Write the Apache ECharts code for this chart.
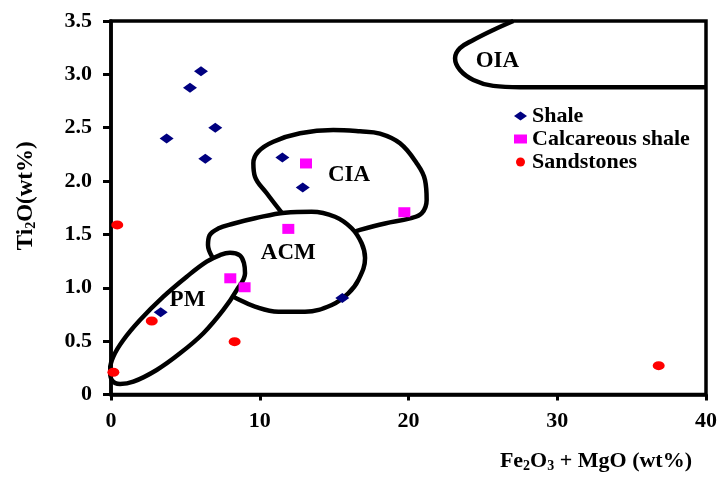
<!DOCTYPE html>
<html><head><meta charset="utf-8">
<script src="https://cdn.jsdelivr.net/npm/echarts@6/dist/echarts.min.js"></script>
<style>html,body{margin:0;padding:0;background:#fff}#c{width:721px;height:477px}</style>
</head><body><div id="c"></div>
<script>
// ---- data ----
const shale = [[6.05,3.03],[5.31,2.875],[3.74,2.40],[7.01,2.50],[6.34,2.21],[11.52,2.22],[12.89,1.94],[3.34,0.77],[15.55,0.905]];
const calcShale = [[13.11,2.165],[11.92,1.552],[19.72,1.708],[8.02,1.089],[8.98,1.005]];
const sandstones = [[0.42,1.589],[2.74,0.689],[8.31,0.495],[0.16,0.208],[36.82,0.27]];
const xTicks = ['0','10','20','30','40'];
const yTicks = ['0','0.5','1.0','1.5','2.0','2.5','3.0','3.5'];
// field boundaries (traced)
const oiaLine = [[27.05,3.5],[25.70,3.416],[24.36,3.322],[23.46,3.245],[23.13,3.151],[23.46,3.041],[24.36,2.948],[25.70,2.892],[27.50,2.880],[31.08,2.880],[40,2.880]];
const ciaLine = [[11.5,1.70],[10.47,1.886],[9.68,2.041],[9.57,2.167],[9.90,2.276],[10.91,2.369],[12.71,2.448],[14.94,2.479],[16.74,2.466],[18.08,2.445],[19.43,2.354],[20.55,2.167],[21.11,2.010],[21.22,1.823],[20.89,1.698],[20.10,1.651],[18.42,1.603],[16.74,1.542],[16.3,1.52]];
const acmLine = [[6.8,1.29],[6.52,1.40],[6.62,1.49],[7.2,1.555],[8.2,1.60],[9.68,1.651],[11.70,1.704],[13.49,1.713],[15.06,1.666],[16.18,1.558],[16.85,1.417],[17.08,1.279],[16.63,1.073],[15.95,0.948],[14.84,0.839],[13.04,0.776],[11.25,0.776],[9.68,0.823],[8.45,0.90],[8.2,0.92]];
const pmLine = [[4.64,0.386],[3.07,0.230],[1.50,0.120],[0.61,0.098],[0.05,0.136],[-0.07,0.230],[0.15,0.354],[0.83,0.511],[1.95,0.698],[3.52,0.917],[5.09,1.104],[6.43,1.245],[7.33,1.307],[8.0,1.329],[8.67,1.303],[8.94,1.230],[9.01,1.136],[8.45,0.979],[7.55,0.792],[6.21,0.574],[4.64,0.386]];
const fieldNames = ['OIA','CIA','ACM','PM'];
const fieldLabelPos = [[25.98,3.126],[16.0,2.057],[11.92,1.323],[5.14,0.886]];

const FONT = 'Liberation Serif';
const chart = echarts.init(document.getElementById('c'));
const outline = (name, data) => ({
  type:'line', name, data, smooth:0.4, showSymbol:false, symbol:'none', clip:false, silent:true, z:2,
  lineStyle:{color:'#000', width:4.5}
});
chart.setOption({
  animation:false,
  backgroundColor:'#fff',
  grid:{left:111, right:15, top:21, bottom:82.5, show:true, borderColor:'#000', borderWidth:3.5, backgroundColor:'transparent'},
  legend:{
    data:['Shale','Calcareous shale','Sandstones'], orient:'vertical', left:514, top:105, padding:0,
    itemWidth:13, itemHeight:9, itemGap:1, symbolKeepAspect:false,
    textStyle:{fontFamily:FONT, fontWeight:'bold', fontSize:22, lineHeight:22, color:'#000'}
  },
  xAxis:{
    type:'value', min:0, max:40, interval:10,
    axisLine:{show:true, onZero:false, lineStyle:{color:'#000', width:3.5}},
    axisTick:{show:true, length:6, lineStyle:{color:'#000', width:3}},
    splitLine:{show:false},
    axisLabel:{margin:16, fontFamily:FONT, fontWeight:'bold', fontSize:22, color:'#000',
      formatter:(v)=>xTicks[Math.round(v/10)]},
    name:'{a|Fe}{s|2}{a|O}{s|3}{a| + MgO (wt%)}', nameLocation:'end', nameGap:-14,
    nameTextStyle:{align:'right', verticalAlign:'top', padding:[55,0,0,0],
      rich:{a:{fontFamily:FONT, fontWeight:'bold', fontSize:22, lineHeight:24, color:'#000'},
            s:{fontFamily:FONT, fontWeight:'bold', fontSize:14, lineHeight:6, verticalAlign:'bottom', color:'#000'}}}
  },
  yAxis:{
    type:'value', min:0, max:3.5, interval:0.5,
    axisLine:{show:true, onZero:false, lineStyle:{color:'#000', width:3.5}},
    axisTick:{show:true, length:8, lineStyle:{color:'#000', width:3}},
    splitLine:{show:false},
    axisLabel:{margin:19, fontFamily:FONT, fontWeight:'bold', fontSize:22, color:'#000',
      formatter:(v)=>yTicks[Math.round(v/0.5)]},
    name:'{a|Ti}{s|2}{a|O(wt%)}', nameLocation:'middle', nameGap:73,
    nameTextStyle:{padding:[0,0,0,24],
      rich:{a:{fontFamily:FONT, fontWeight:'bold', fontSize:23, lineHeight:24, color:'#000'},
            s:{fontFamily:FONT, fontWeight:'bold', fontSize:14, lineHeight:6, verticalAlign:'bottom', color:'#000'}}}
  },
  series:[
    outline('OIA field', oiaLine),
    outline('CIA field', ciaLine),
    outline('ACM field', acmLine),
    outline('PM field', pmLine),
    {type:'scatter', name:'fields', silent:true, symbolSize:0, z:3, itemStyle:{opacity:1},
      data:fieldNames.map((n,i)=>({name:n, value:fieldLabelPos[i]})),
      label:{show:true, position:'inside', formatter:(p)=>p.name, fontFamily:FONT, fontWeight:'bold', fontSize:23,
        color:'#000', textBorderWidth:0, textBorderColor:'transparent'}},
    {type:'scatter', name:'Shale', data:shale, symbol:'diamond', symbolSize:[14,10], z:5, itemStyle:{color:'#000080', opacity:1}},
    {type:'scatter', name:'Calcareous shale', data:calcShale, symbol:'rect', symbolSize:[12,10], z:5, itemStyle:{color:'#ff00ff', opacity:1}},
    {type:'scatter', name:'Sandstones', data:sandstones, symbol:'circle', symbolSize:[12,9], z:5, itemStyle:{color:'#ff0000', opacity:1}}
  ]
});
</script></body></html>
